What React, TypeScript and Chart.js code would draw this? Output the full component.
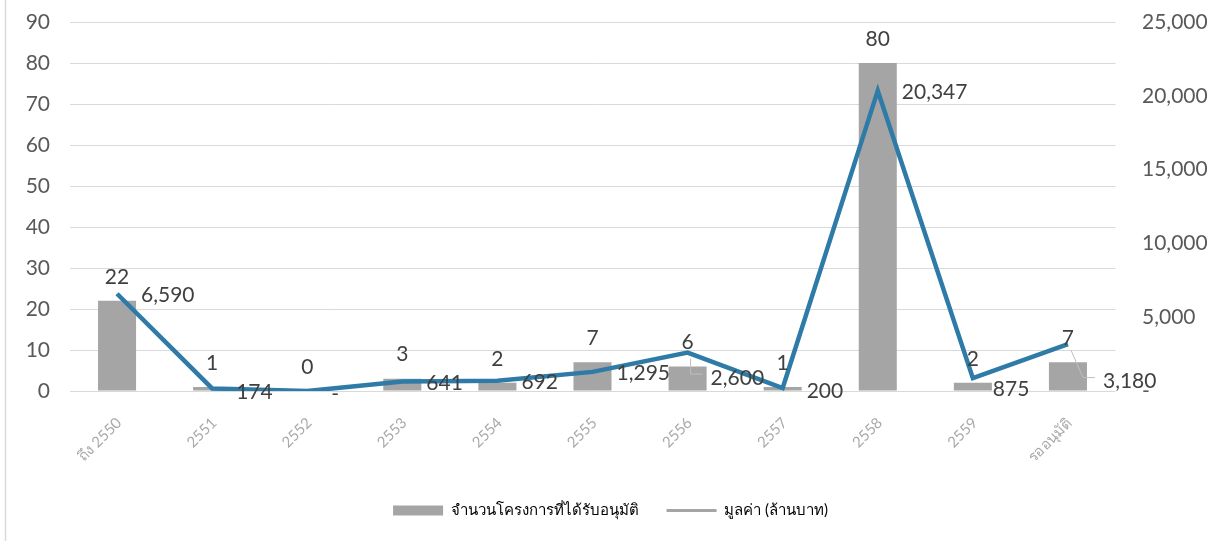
import React, { useEffect, useRef } from "react";
import { Chart, registerables } from "chart.js";

Chart.register(...registerables);

const categories = ["ถึง 2550", "2551", "2552", "2553", "2554", "2555", "2556", "2557", "2558", "2559", "รออนุมัติ"];
const projectCounts = [22, 1, 0, 3, 2, 7, 6, 1, 80, 2, 7];
const projectValues = [6590, 174, 0, 641, 692, 1295, 2600, 200, 20347, 875, 3180];
const seriesNames = ["จำนวนโครงการที่ได้รับอนุมัติ", "มูลค่า (ล้านบาท)"];
const leftAxis = { min: 0, max: 90, step: 10 };
const rightAxis = { min: 0, max: 25000, step: 5000 };

// label nudges (layout only, pixels)
const valueLabelNudge: [number, number][] = [
  [0, 0], [0, 2], [0, 2], [0, 0], [0, 0], [0, 0], [-1, 24], [0, 2], [0, 0], [-4, 10], [11, 36],
];

const BAR_COLOR = "#A5A5A5";
const LINE_COLOR = "#2E7BA8";
const FONT = "Lato, 'Open Sans', sans-serif";
const THAI_FONT = "Lato, 'Noto Sans', sans-serif";

const fmt = (v: number) => (v === 0 ? "-" : v.toLocaleString("en-US"));

const labelPlugin = {
  id: "dataLabels",
  beforeDraw(chart: any) {
    const ctx = chart.ctx;
    ctx.save();
    ctx.strokeStyle = "#d9d9d9";
    ctx.lineWidth = 1.5;
    ctx.beginPath();
    ctx.moveTo(5.5, 0);
    ctx.lineTo(5.5, 541);
    ctx.stroke();
    ctx.restore();
  },
  afterDatasetsDraw(chart: any) {
    const ctx = chart.ctx;
    const barMeta = chart.getDatasetMeta(0);
    const lineMeta = chart.getDatasetMeta(1);
    ctx.save();
    ctx.font = `21px ${FONT}`;
    ctx.fillStyle = "#404040";
    ctx.textBaseline = "middle";
    ctx.textAlign = "center";
    barMeta.data.forEach((el: any, i: number) => {
      ctx.fillText(String(projectCounts[i]), el.x, el.y - 24);
    });
    ctx.textAlign = "left";
    lineMeta.data.forEach((pt: any, i: number) => {
      const [dx, dy] = valueLabelNudge[i];
      const lx = pt.x + 24 + dx;
      const ly = pt.y + 1.5 + dy;
      if (Math.abs(dy) > 15) {
        ctx.save();
        ctx.strokeStyle = "#bfbfbf";
        ctx.lineWidth = 1;
        ctx.beginPath();
        ctx.moveTo(pt.x + 3, pt.y + 6);
        ctx.lineTo(lx - 20, ly - 4);
        ctx.lineTo(lx - 8, ly - 4);
        ctx.stroke();
        ctx.restore();
      }
      ctx.fillText(fmt(projectValues[i]), lx, ly);
    });
    ctx.restore();
  },
};

export default function App() {
  const ref = useRef<HTMLCanvasElement | null>(null);
  useEffect(() => {
    if (!ref.current) return;
    const chart = new Chart(ref.current, {
      type: "bar",
      data: {
        labels: categories,
        datasets: [
          {
            type: "bar",
            label: seriesNames[0],
            data: projectCounts,
            backgroundColor: BAR_COLOR,
            yAxisID: "y",
            order: 1,
            barPercentage: 0.4,
            categoryPercentage: 1,
          },
          {
            type: "line",
            label: seriesNames[1],
            data: projectValues,
            borderColor: LINE_COLOR,
            backgroundColor: LINE_COLOR,
            borderWidth: 4.5,
            pointRadius: 0,
            tension: 0,
            yAxisID: "y1",
            order: 0,
          },
        ],
      } as any,
      options: {
        responsive: false,
        animation: false,
        layout: { padding: { top: 22, bottom: 15, left: 0, right: 0 } },
        plugins: {
          tooltip: { enabled: false },
          legend: {
            position: "bottom",
            labels: {
              usePointStyle: true,
              pointStyleWidth: 50,
              boxHeight: 10,
              padding: 28,
              color: "#8c8c8c",
              font: { size: 15, family: THAI_FONT },
              generateLabels: () => [
                { text: seriesNames[0], fillStyle: BAR_COLOR, strokeStyle: BAR_COLOR, lineWidth: 0, pointStyle: "rect", hidden: false, datasetIndex: 0 },
                { text: seriesNames[1], fillStyle: BAR_COLOR, strokeStyle: BAR_COLOR, lineWidth: 3, pointStyle: "line", hidden: false, datasetIndex: 1 },
              ],
            },
          },
        },
        scales: {
          x: {
            grid: { display: false },
            border: { display: false },
            ticks: {
              autoSkip: false,
              minRotation: 45,
              maxRotation: 45,
              padding: 15,
              labelOffset: 2,
              color: "#a9a9a9",
              font: { size: 15, family: THAI_FONT },
            },
            afterFit: (s: any) => {
              s.height = 84;
            },
          },
          y: {
            position: "left",
            min: leftAxis.min,
            max: leftAxis.max,
            grid: { color: "#d9d9d9", drawTicks: false, lineWidth: 1 },
            border: { display: false },
            ticks: {
              stepSize: leftAxis.step,
              padding: 19.5,
              color: "#595959",
              font: { size: 21, family: FONT },
            },
            afterFit: (s: any) => {
              s.width = 69.5;
              s.paddingTop = 0;
              s.paddingBottom = 0;
            },
          },
          y1: {
            position: "right",
            min: rightAxis.min,
            max: rightAxis.max,
            grid: { display: false, drawTicks: false },
            border: { display: false },
            ticks: {
              stepSize: rightAxis.step,
              padding: 26.5,
              color: "#595959",
              font: { size: 21, family: FONT },
              callback: (v: any) => fmt(Number(v)),
            },
            afterFit: (s: any) => {
              s.width = 105.5;
              s.paddingTop = 0;
              s.paddingBottom = 0;
            },
          },
        },
      } as any,
      plugins: [labelPlugin],
    });
    return () => chart.destroy();
  }, []);
  return (
    <div style={{ position: "absolute", left: 0, top: 0, width: 1221, height: 543, background: "#fff" }}>
      <canvas ref={ref} width={1221} height={543} style={{ display: "block" }} />
    </div>
  );
}
